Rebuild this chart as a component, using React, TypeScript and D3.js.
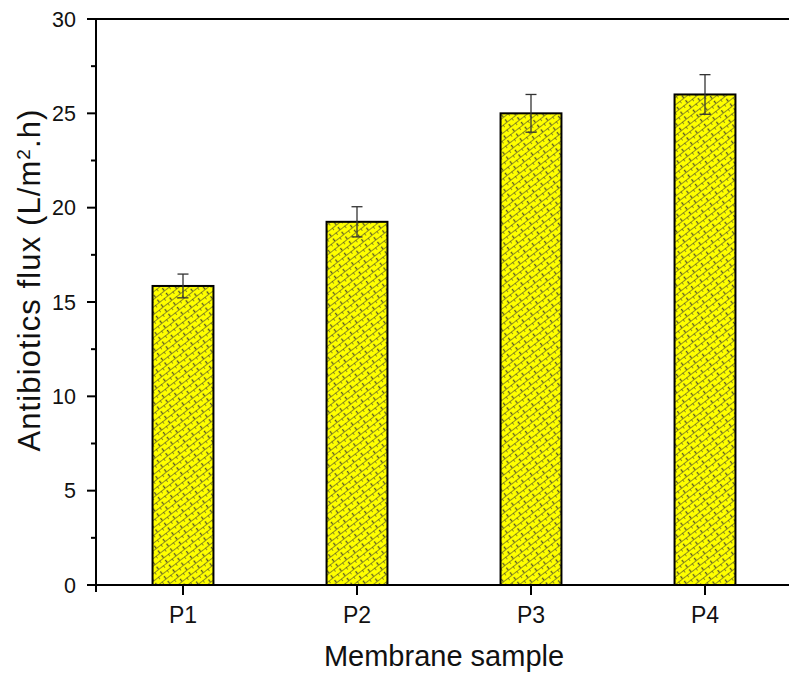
import React from "react";
import * as d3 from "d3";

const categories = ["P1", "P2", "P3", "P4"];
const values = [15.85, 19.25, 25.0, 26.0];
const errors = [0.63, 0.8, 1.0, 1.05];
const yTicks = [0, 5, 10, 15, 20, 25, 30];
const yMinorTicks = [2.5, 7.5, 12.5, 17.5, 22.5, 27.5];

export default function App() {
  const W = 789, H = 674;
  const left = 96, right = 792, top = 19, bottom = 585;
  const x = d3.scaleLinear().domain([0.5, 4.5]).range([left, right]);
  const y = d3.scaleLinear().domain([0, 30]).range([bottom, top]);
  const barW = (x(2) - x(1)) * 0.35;
  const font = "Arial, 'Liberation Sans', sans-serif";
  return (
    <svg width={W} height={H} style={{ position: "absolute", left: 0, top: 0, background: "#fff" }}>
      <defs>
        <pattern id="brick" width="11" height="6" patternUnits="userSpaceOnUse" patternTransform="rotate(-38)">
          <rect width="11" height="6" fill="#ffff00" />
          <line x1="0" y1="0" x2="11" y2="0" stroke="#55552a" strokeWidth="1.3" />
          <line x1="0" y1="0" x2="0" y2="3" stroke="#55552a" strokeWidth="1.3" />
          <line x1="5.5" y1="3" x2="5.5" y2="6" stroke="#55552a" strokeWidth="1.3" />
        </pattern>
      </defs>
      {/* bars */}
      {values.map((v, i) => (
        <rect key={"b" + i} x={x(i + 1) - barW / 2} y={y(v)} width={barW} height={y(0) - y(v)}
          fill="url(#brick)" stroke="#000" strokeWidth={2} />
      ))}
      {/* error bars */}
      {values.map((v, i) => {
        const cx = x(i + 1);
        return (
          <g key={"e" + i} stroke="#333" strokeWidth={1.3}>
            <line x1={cx} x2={cx} y1={y(v + errors[i])} y2={y(v - errors[i])} />
            <line x1={cx - 5.5} x2={cx + 5.5} y1={y(v + errors[i])} y2={y(v + errors[i])} />
            <line x1={cx - 5.5} x2={cx + 5.5} y1={y(v - errors[i])} y2={y(v - errors[i])} />
          </g>
        );
      })}
      {/* frame */}
      <line x1={left} x2={W + 5} y1={top} y2={top} stroke="#000" strokeWidth={2} />
      <line x1={left} x2={W + 5} y1={bottom} y2={bottom} stroke="#000" strokeWidth={2} />
      <line x1={left} x2={left} y1={top - 1} y2={bottom + 7} stroke="#000" strokeWidth={2} />
      {/* y ticks */}
      {yTicks.map((t) => (
        <g key={"yt" + t}>
          <line x1={left - 9} x2={left} y1={y(t)} y2={y(t)} stroke="#000" strokeWidth={2} />
          <text x={76} y={y(t)} dy="0.35em" textAnchor="end" fontFamily={font} fontSize={21.5} fill="#111">{t}</text>
        </g>
      ))}
      {yMinorTicks.map((t) => (
        <line key={"ym" + t} x1={left - 5} x2={left} y1={y(t)} y2={y(t)} stroke="#000" strokeWidth={2} />
      ))}
      {/* x ticks */}
      {categories.map((c, i) => (
        <g key={"xt" + c}>
          <line x1={x(i + 1)} x2={x(i + 1)} y1={bottom} y2={bottom + 10} stroke="#000" strokeWidth={2} />
          <text x={x(i + 1)} y={623} textAnchor="middle" fontFamily={font} fontSize={23} fill="#111">{c}</text>
        </g>
      ))}
      {/* titles */}
      <text x={(left + right) / 2} y={666} textAnchor="middle" fontFamily={font} fontSize={29} fill="#111">Membrane sample</text>
      <text transform={`translate(40, 280) rotate(-90)`} textAnchor="middle" fontFamily={font} fontSize={31} letterSpacing={1.1} fill="#111">
        Antibiotics flux (L/m<tspan baselineShift="super" fontSize={19}>2</tspan>.h)
      </text>
    </svg>
  );
}
